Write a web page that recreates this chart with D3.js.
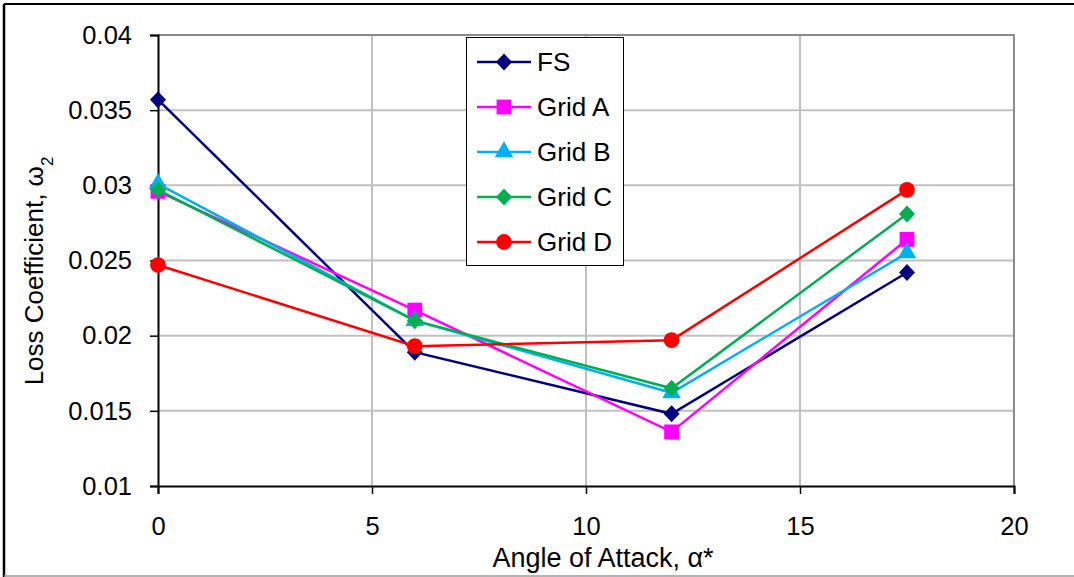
<!DOCTYPE html>
<html>
<head>
<meta charset="utf-8">
<script src="https://cdn.jsdelivr.net/npm/d3@7"></script>
<style>
  html, body { margin: 0; padding: 0; background: #fff; }
  svg text { font-family: "Liberation Sans", Arial, sans-serif; fill: #000; }
</style>
</head>
<body>
<svg id="chart" width="1074" height="577"></svg>
<script>
// Angle of attack (degrees) at which each loss coefficient was evaluated
const angles = [0, 6, 12, 17.5];

// Loss coefficient ω2 per solution
const fsLoss    = [0.0357, 0.0189, 0.0148, 0.0242];
const gridALoss = [0.0296, 0.0217, 0.0136, 0.0264];
const gridBLoss = [0.0301, 0.0210, 0.0162, 0.0255];
const gridCLoss = [0.0297, 0.0210, 0.0165, 0.0281];
const gridDLoss = [0.0247, 0.0193, 0.0197, 0.0297];

const seriesNames = ["FS", "Grid A", "Grid B", "Grid C", "Grid D"];
const seriesValues = [fsLoss, gridALoss, gridBLoss, gridCLoss, gridDLoss];

const xTicks = [0, 5, 10, 15, 20];
const yTicks = [0.01, 0.015, 0.02, 0.025, 0.03, 0.035, 0.04];

const colors = ["#000080", "#ff00ff", "#00b0f0", "#00b050", "#ff0000"];
const shapes = ["diamond", "square", "triangle", "diamond", "circle"];

const svg = d3.select("#chart");
const W = 1074, H = 577;
const plot = { left: 158, right: 1014, top: 35, bottom: 486 };

// outer chart frame
svg.append("line").attr("x1", 4).attr("x2", W).attr("y1", 4).attr("y2", 4)
  .attr("stroke", "#000").attr("stroke-width", 2);
svg.append("line").attr("x1", 4).attr("x2", 4).attr("y1", 4).attr("y2", H)
  .attr("stroke", "#000").attr("stroke-width", 2.5);
svg.append("line").attr("x1", 4).attr("x2", W).attr("y1", 576).attr("y2", 576)
  .attr("stroke", "#9a9a9a").attr("stroke-width", 1.5);

const x = d3.scaleLinear().domain([0, 20]).range([plot.left, plot.right]);
const y = d3.scaleLinear().domain([0.01, 0.04]).range([plot.bottom, plot.top]);

// gridlines
const grid = svg.append("g").attr("stroke", "#c0c0c0").attr("stroke-width", 2);
grid.selectAll(".gx").data(xTicks.slice(1, -1)).join("line")
  .attr("x1", d => x(d)).attr("x2", d => x(d))
  .attr("y1", plot.top).attr("y2", plot.bottom);
grid.selectAll(".gy").data(yTicks.slice(1, -1)).join("line")
  .attr("x1", plot.left).attr("x2", plot.right)
  .attr("y1", d => y(d)).attr("y2", d => y(d));

// plot area border (top and right)
svg.append("path")
  .attr("d", `M${plot.left},${plot.top}H${plot.right}V${plot.bottom}`)
  .attr("fill", "none").attr("stroke", "#8c8c8c").attr("stroke-width", 2);

// axes
const xAxis = svg.append("g").attr("transform", `translate(0,${plot.bottom})`)
  .call(d3.axisBottom(x).tickValues(xTicks).tickFormat(d3.format("d")).tickSizeOuter(0).tickSize(8).tickPadding(23));
const yAxis = svg.append("g").attr("transform", `translate(${plot.left},0)`)
  .call(d3.axisLeft(y).tickValues(yTicks).tickFormat(d => String(+d.toFixed(3))).tickSizeOuter(0).tickSize(8).tickPadding(18));
[xAxis, yAxis].forEach(a => {
  a.select(".domain").attr("stroke", "#000").attr("stroke-width", 2);
  a.selectAll(".tick line").attr("stroke", "#000").attr("stroke-width", 1.5);
  a.selectAll("text").style("font-size", "25.5px").attr("fill", "#000");
});

// axis titles
svg.append("text").attr("x", 603).attr("y", 567).attr("text-anchor", "middle")
  .style("font-size", "27px").text("Angle of Attack, α*");
const yt = svg.append("text").attr("transform", "translate(43,271) rotate(-90)")
  .attr("text-anchor", "middle").style("font-size", "26px");
yt.append("tspan").text("Loss Coefficient, ω");
yt.append("tspan").attr("baseline-shift", "sub").style("font-size", "17px").text("2");

// marker shapes, sized in pixels
function symbolFor(shape) {
  if (shape === "diamond") return "M0,-8.5L8,0L0,8.5L-8,0Z";
  if (shape === "square") return d3.symbol().type(d3.symbolSquare).size(220)();
  if (shape === "triangle") return d3.symbol().type(d3.symbolTriangle).size(150)();
  return d3.symbol().type(d3.symbolCircle).size(195)();
}

const line = d3.line().x(d => x(d[0])).y(d => y(d[1]));
seriesValues.forEach((vals, i) => {
  const pts = angles.map((a, j) => [a, vals[j]]);
  const g = svg.append("g");
  g.append("path").attr("d", line(pts)).attr("fill", "none")
    .attr("stroke", colors[i]).attr("stroke-width", 2.5);
  g.selectAll("path.m").data(pts).join("path").attr("class", "m")
    .attr("transform", d => `translate(${x(d[0])},${y(d[1])})`)
    .attr("d", symbolFor(shapes[i])).attr("fill", colors[i]);
});

// legend
const lg = svg.append("g");
lg.append("rect").attr("x", 466.5).attr("y", 37.5).attr("width", 157).attr("height", 228)
  .attr("fill", "#fff").attr("stroke", "#000").attr("stroke-width", 1);
seriesNames.forEach((name, i) => {
  const cy = 62 + i * 45;
  lg.append("line").attr("x1", 477).attr("x2", 531).attr("y1", cy).attr("y2", cy)
    .attr("stroke", colors[i]).attr("stroke-width", 2.5);
  lg.append("path").attr("transform", `translate(504,${cy})`)
    .attr("d", symbolFor(shapes[i])).attr("fill", colors[i]);
  lg.append("text").attr("x", 537).attr("y", cy + 8.5).style("font-size", "26px").text(name);
});
</script>
</body>
</html>
